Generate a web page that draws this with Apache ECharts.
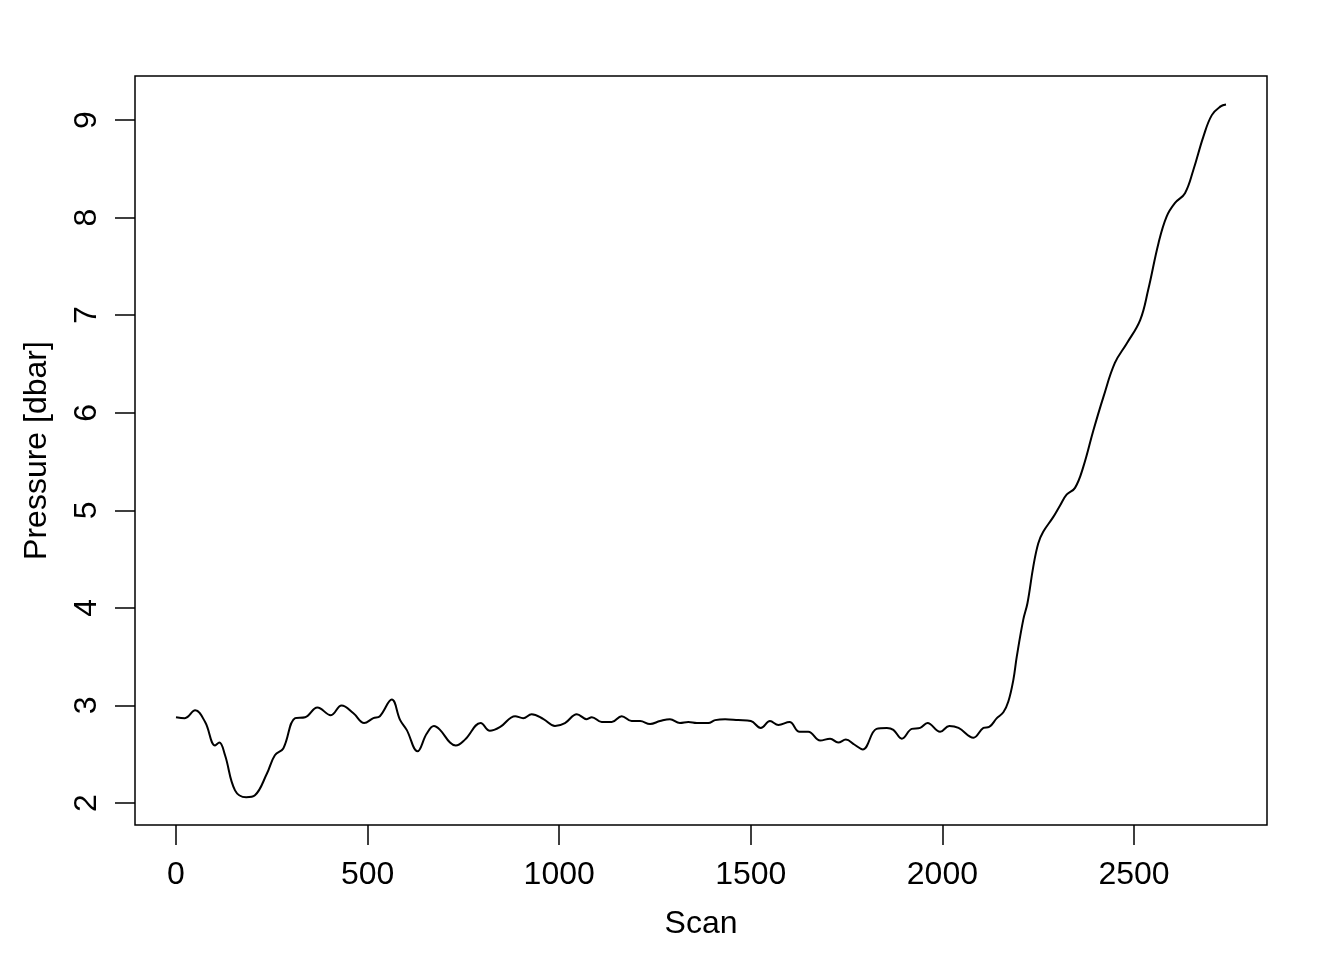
<!DOCTYPE html>
<html>
<head>
<meta charset="utf-8">
<script src="https://cdn.jsdelivr.net/npm/echarts@6/dist/echarts.min.js"></script>
<style>html,body{margin:0;padding:0;background:#fff}#c{width:1344px;height:960px}</style>
</head>
<body>
<div id="c"></div>
<script>
const scans = [0,23,50,76,102,113,128,154,183,206,237,258,280,311,337,369,404,432,463,491,515,532,563,585,602,630,654,673,689,715,730,754,795,819,846,885,906,928,959,989,1015,1046,1072,1085,1111,1137,1163,1189,1211,1237,1263,1289,1315,1337,1359,1389,1407,1433,1467,1500,1526,1550,1572,1601,1627,1650,1681,1707,1728,1748,1770,1792,1828,1855,1872,1894,1920,1942,1961,1994,2018,2042,2081,2107,2122,2142,2159,2172,2185,2194,2211,2222,2237,2250,2263,2289,2307,2324,2346,2368,2394,2420,2450,2481,2516,2537,2564,2585,2607,2633,2655,2681,2703,2726,2740];
const pressure = [2.88,2.87,2.95,2.83,2.59,2.62,2.49,2.13,2.06,2.08,2.30,2.49,2.56,2.87,2.88,2.98,2.90,3.00,2.92,2.82,2.87,2.89,3.06,2.85,2.75,2.53,2.71,2.79,2.75,2.62,2.59,2.65,2.82,2.74,2.78,2.89,2.87,2.91,2.86,2.79,2.82,2.91,2.86,2.88,2.83,2.83,2.89,2.84,2.84,2.81,2.84,2.86,2.82,2.83,2.82,2.82,2.85,2.86,2.85,2.84,2.77,2.84,2.80,2.83,2.73,2.73,2.64,2.66,2.62,2.65,2.60,2.55,2.76,2.77,2.75,2.66,2.76,2.77,2.82,2.73,2.79,2.77,2.67,2.77,2.78,2.87,2.93,3.04,3.26,3.50,3.88,4.05,4.42,4.66,4.78,4.93,5.05,5.16,5.23,5.45,5.82,6.16,6.51,6.71,6.95,7.26,7.74,8.01,8.15,8.25,8.49,8.83,9.05,9.14,9.16];
const xTicks = [0,500,1000,1500,2000,2500];
const yTicks = [2,3,4,5,6,7,8,9];
const xTitle = 'Scan';
const yTitle = 'Pressure [dbar]';

const font = 'Liberation Sans, Arial, Helvetica, sans-serif';
const chart = echarts.init(document.getElementById('c'), null, {renderer: 'canvas'});
chart.setOption({
  animation: false,
  backgroundColor: '#fff',
  grid: {left: 135, right: 77, top: 76, bottom: 135, show: true, borderColor: '#000', borderWidth: 1.5, backgroundColor: 'transparent'},
  xAxis: {
    type: 'value', min: -107, max: 2847,
    name: xTitle, nameLocation: 'middle', nameGap: 83,
    nameTextStyle: {fontFamily: font, fontSize: 32, color: '#000'},
    axisLine: {show: false, onZero: false},
    splitLine: {show: false},
    axisTick: {show: true, length: 20, customValues: xTicks, lineStyle: {color: '#000', width: 1.5}},
    axisLabel: {customValues: xTicks, margin: 34, fontFamily: font, fontSize: 32, color: '#000', formatter: v => String(v)}
  },
  yAxis: {
    type: 'value', min: 1.775, max: 9.451,
    name: yTitle, nameLocation: 'middle', nameGap: 82, nameRotate: 90,
    nameTextStyle: {fontFamily: font, fontSize: 32, color: '#000'},
    axisLine: {show: false, onZero: false},
    splitLine: {show: false},
    axisTick: {show: true, length: 20, customValues: yTicks, lineStyle: {color: '#000', width: 1.5}},
    axisLabel: {customValues: yTicks, margin: 32, rotate: 90, fontFamily: font, fontSize: 32, color: '#000', formatter: v => String(v)}
  },
  series: [{
    type: 'line',
    data: scans.map((s, i) => [s, pressure[i]]),
    showSymbol: false,
    smooth: 0.4,
    lineStyle: {color: '#000', width: 2},
    silent: true
  }]
});
</script>
</body>
</html>
